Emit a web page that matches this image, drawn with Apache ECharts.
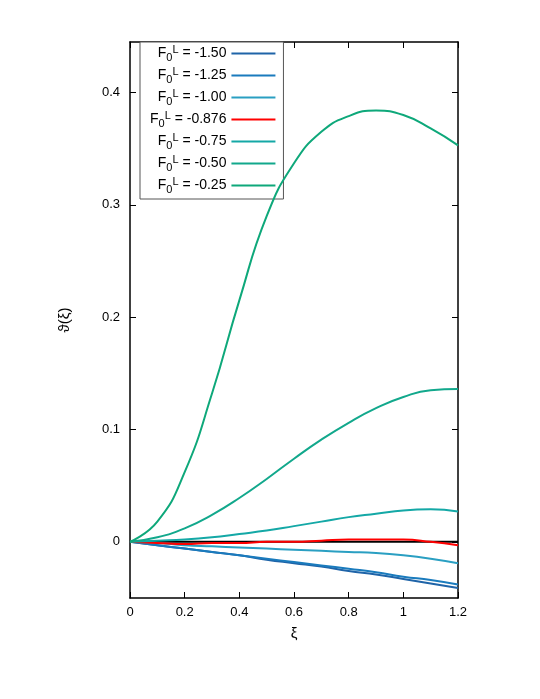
<!DOCTYPE html>
<html><head><meta charset="utf-8">
<script src="https://cdn.jsdelivr.net/npm/echarts@6/dist/echarts.min.js"></script>
<style>html,body{margin:0;background:#fff}#c{width:540px;height:699px}</style>
</head><body><div id="c"></div>
<script>
// x samples
var xs = [0, 0.1, 0.2, 0.3, 0.4, 0.5, 0.6, 0.7, 0.8, 0.9, 1.0, 1.1, 1.2];
// curve values per F0L
var fNames = ['-1.50', '-1.25', '-1.00', '-0.876', '-0.75', '-0.50', '-0.25'];
var y150 = [0, -0.003, -0.006, -0.009, -0.012, -0.016, -0.019, -0.022, -0.026, -0.029, -0.033, -0.037, -0.041];
var y125 = [0, -0.003, -0.006, -0.009, -0.012, -0.015, -0.018, -0.021, -0.024, -0.027, -0.031, -0.034, -0.038];
var y100 = [0, -0.001, -0.003, -0.004, -0.005, -0.006, -0.007, -0.008, -0.009, -0.010, -0.012, -0.015, -0.019];
var y0876 = [0, -0.001, -0.002, -0.001, -0.001, 0.000, 0.000, 0.001, 0.002, 0.002, 0.002, 0.000, -0.003];
var y075 = [0, 0.001, 0.002, 0.004, 0.007, 0.010, 0.014, 0.018, 0.022, 0.025, 0.028, 0.029, 0.027];
var y050 = [0, 0.004, 0.012, 0.024, 0.039, 0.056, 0.074, 0.091, 0.106, 0.119, 0.129, 0.135, 0.136];
var y025 = [0, 0.018, 0.062, 0.132, 0.215, 0.290, 0.337, 0.365, 0.379, 0.384, 0.380, 0.368, 0.353];
var allY = [y150, y125, y100, y0876, y075, y050, y025];
var colors = ['#1f64a8', '#1a7bbd', '#2a9fc2', '#ff0000', '#14a8a6', '#12a88c', '#0ea87a'];
var xTicks = [0, 0.2, 0.4, 0.6, 0.8, 1, 1.2];
var yTicks = [0, 0.1, 0.2, 0.3, 0.4];

var chart = echarts.init(document.getElementById('c'));
var series = allY.map(function (ys, i) {
	return {
		name: fNames[i],
		type: 'line',
		smooth: true,
		showSymbol: false,
		data: xs.map(function (x, j) { return [x, ys[j]]; }),
		lineStyle: { color: colors[i], width: 2 },
		itemStyle: { color: colors[i] },
		z: 3 + i
	};
});
// black zero line
series.push({
	name: 'zero', type: 'line', showSymbol: false, silent: true,
	data: [[0, 0], [1.2, 0]], lineStyle: { color: '#000', width: 2 }, z: 2
});
var line = { show: true, onZero: false, lineStyle: { color: '#000', width: 1.5 } };
var tick = function (vals) { return { show: true, inside: true, length: 6, customValues: vals, lineStyle: { color: '#000' } }; };
chart.setOption({
	animation: false,
	textStyle: { fontFamily: 'Liberation Sans, Arial, sans-serif' },
	grid: { left: 130, right: 82, top: 42, bottom: 101 },
	legend: {
		data: fNames, left: 140, top: 42, orient: 'vertical', align: 'right',
		itemWidth: 44, itemHeight: 2, itemGap: 3, icon: 'rect',
		padding: [2, 8, 4, 10],
		borderColor: '#555', borderWidth: 1, backgroundColor: '#fff',
		formatter: function (n) { return '{b|F}{s|0}{p|L}{b| = ' + n + '}'; },
		textStyle: {
			rich: {
				b: { fontSize: 14, color: '#000' },
				s: { fontSize: 11, color: '#000', verticalAlign: 'bottom', padding: [8, 0, 0, 0] },
				p: { fontSize: 11, color: '#000', verticalAlign: 'top', padding: [0, 0, 8, 0] }
			}
		}
	},
	xAxis: [{
		type: 'value', min: 0, max: 1.2, interval: 0.2,
		name: 'ξ', nameLocation: 'middle', nameGap: 28, nameTextStyle: { fontSize: 15, color: '#000' },
		axisLine: line, axisTick: tick(xTicks),
		axisLabel: { color: '#000', fontSize: 13, customValues: xTicks, formatter: function (v) { return String(+v.toFixed(1)); } },
		splitLine: { show: false }
	}, {
		type: 'value', min: 0, max: 1.2, interval: 0.2, position: 'top',
		axisLine: line, axisTick: tick(xTicks),
		axisLabel: { show: false }, splitLine: { show: false }
	}],
	yAxis: [{
		type: 'value', min: -0.05, max: 0.445, interval: 0.05,
		name: 'ϑ(ξ)', nameLocation: 'middle', nameGap: 58, nameRotate: 90,
		nameTextStyle: { fontSize: 15, color: '#000' },
		axisLine: line, axisTick: tick(yTicks),
		axisLabel: { color: '#000', fontSize: 13, margin: 10, customValues: yTicks, formatter: function (v) { return v === 0 ? '0' : String(+v.toFixed(1)); } },
		splitLine: { show: false }
	}, {
		type: 'value', min: -0.05, max: 0.445, interval: 0.05, position: 'right',
		axisLine: line, axisTick: tick(yTicks),
		axisLabel: { show: false }, splitLine: { show: false }
	}],
	series: series
});
</script></body></html>
